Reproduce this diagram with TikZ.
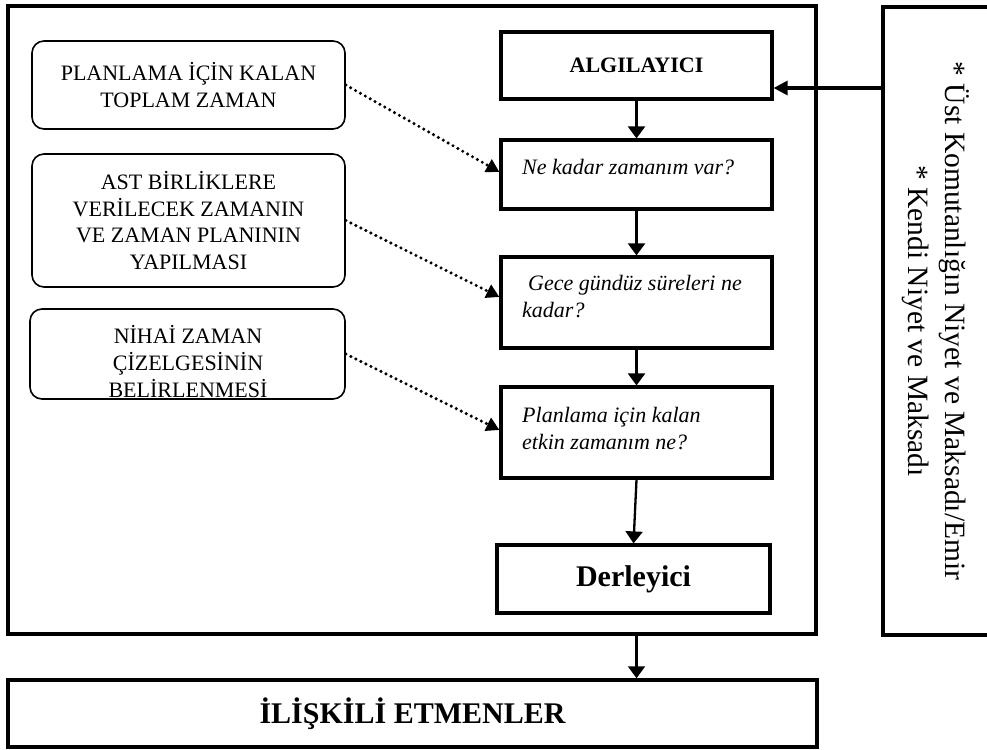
\documentclass[tikz,border=0pt]{standalone}
\usepackage{fontspec}
\setmainfont{Liberation Serif}
\usetikzlibrary{arrows.meta,calc}
\begin{document}
\begin{tikzpicture}[x=1pt,y=-1pt,
  frame/.style={draw, line width=3.5pt, inner sep=0pt},
  qbox/.style={draw, line width=3.2pt, minimum width=271pt, inner sep=0pt},
  qtext/.style={font=\fontsize{22}{27}\selectfont\itshape, anchor=base west, inner sep=0pt},
  rbox/.style={draw, rounded corners=12pt, line width=1.6pt, minimum width=313pt, align=center, inner sep=0pt, font=\fontsize{22}{26.5}\selectfont},
  ltext/.style={align=center, inner sep=0pt, font=\fontsize{22}{27}\selectfont},
  flow/.style={line width=2.3pt, -{Triangle[length=12pt,width=17pt]}},
  dotarrow/.style={line width=3.4pt, line cap=round, dash pattern=on 0pt off 5.6pt, -{Triangle[length=13pt,width=14pt]}},
]
\useasboundingbox (0,0) rectangle (987,749);

% frames
\node[frame, minimum width=808pt, minimum height=628pt] (outer) at (412,320) {};
\node[frame, minimum width=130pt, minimum height=628pt] (right) at (948,321) {};
\node[rotate=-90, align=center, inner sep=0pt, font=\fontsize{29.5}{37}\selectfont] (rtext) at (936,321)
  {* Üst Komutanlığın Niyet ve Maksadı/Emir\\* Kendi Niyet ve Maksadı};

% right column
\node[qbox, minimum height=67pt, font=\fontsize{22}{26}\selectfont\bfseries] (alg) at (636.5,65.5) {ALGILAYICI};
\node[qbox, minimum height=69pt] (q1) at (636.5,174.5) {};
\node[qtext] (q1a) at (522,174) {Ne kadar zamanım var?};
\node[qbox, minimum height=91pt] (q2) at (636.5,302.5) {};
\node[qtext] (q2a) at (528,290) {Gece gündüz süreleri ne};
\node[qtext] (q2b) at (522,317) {kadar?};
\node[qbox, minimum height=91pt] (q3) at (636.5,432.5) {};
\node[qtext] (q3a) at (522,422) {Planlama için kalan};
\node[qtext] (q3b) at (522,449) {etkin zamanım ne?};
\node[qbox, minimum width=273pt, minimum height=68pt, font=\fontsize{30}{36}\selectfont\bfseries] (der) at (633.5,579) {Derleyici};

% bottom
\node[frame, minimum width=809pt, minimum height=67pt, font=\fontsize{30}{36}\selectfont\bfseries] (ilis) at (412.5,713.5) {İLİŞKİLİ ETMENLER};

% left rounded boxes
\node[rbox, minimum height=88pt] (b1) at (188.5,85) {PLANLAMA İÇİN KALAN\\TOPLAM ZAMAN};
\node[rbox, minimum height=133pt] (b2) at (188.5,220.5) {AST BİRLİKLERE\\VERİLECEK ZAMANIN\\VE ZAMAN PLANININ\\YAPILMASI};
\node[rbox, minimum width=315pt, minimum height=90pt] (b3) at (187.5,354) {};
\node[ltext] (b3t) at (188,362) {NİHAİ ZAMAN\\ÇİZELGESİNİN\\BELİRLENMESİ};

% connectors
\draw[flow] (alg) -- (q1);
\draw[flow] (q1) -- (q2);
\draw[flow] (q2) -- (q3);
\draw[flow] (q3.south) -- (der.north);
\draw[flow] (q3.south |- outer.south) -- (q3.south |- ilis.north);
\coordinate (rin) at (883,88);
\draw[line width=3.2pt, -{Triangle[length=14pt,width=14pt]}] (rin) -- (alg.east |- rin);

\draw[dotarrow] (b1.east) -- ([yshift=2.5pt]q1.west);
\draw[dotarrow] (b2.east) -- ([yshift=5.5pt]q2.west);
\draw[dotarrow] (b3.east) -- ([yshift=2.5pt]q3.west);
\end{tikzpicture}
\end{document}
